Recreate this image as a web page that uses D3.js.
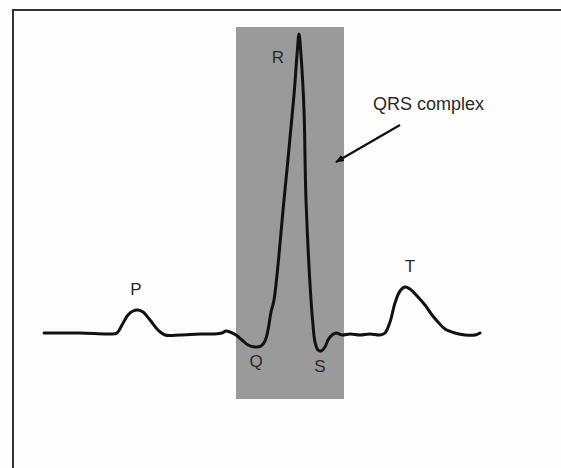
<!DOCTYPE html>
<html>
<head>
<meta charset="utf-8">
<script src="https://cdn.jsdelivr.net/npm/d3@7"></script>
<style>
  body { margin: 0; background: #fdfdfd; }
  svg { display: block; }
  .wave { fill: none; stroke: #111; stroke-width: 3; stroke-linejoin: round; stroke-linecap: round; }
  .lbl { font-family: "Liberation Sans", Arial, sans-serif; font-size: 17px; fill: #2a2a2a; }
</style>
</head>
<body>
<svg></svg>
<script>
const w = 561;
const h = 468;

// ECG trace: time (ms) and voltage (mV)
const ecgTime = [0, 72, 132, 146, 156, 168, 178, 188, 198, 212, 228, 242, 272, 312, 342, 356, 364, 372,
  384, 396, 408, 422, 434, 442, 448, 454, 460, 480, 500, 506, 510, 514, 520, 524, 534, 538, 542, 548,
  554, 562, 568, 576, 584, 596, 612, 632, 652, 672, 682, 692, 702, 712, 722, 732, 748, 762, 776, 788,
  802, 822, 842, 862, 872];
const ecgMv = [0.005, 0.005, 0, 0.005, 0.045, 0.095, 0.115, 0.12, 0.11, 0.07, 0.02, -0.005, -0.005, 0, 0,
  0.005, 0.015, 0.01, -0.005, -0.03, -0.055, -0.065, -0.06, -0.035, 0.02, 0.11, 0.17, 0.67, 1.195, 1.395,
  1.5, 1.395, 1.12, 0.67, 0.17, 0.045, -0.04, -0.08, -0.085, -0.065, -0.03, -0.005, 0.005, -0.005, 0,
  -0.005, 0, -0.005, 0.005, 0.06, 0.155, 0.215, 0.235, 0.225, 0.185, 0.145, 0.095, 0.06, 0.025, 0.005,
  -0.005, -0.005, 0.005];

// wave labels (anchor in ms / mV)
const waveNames = ["P", "Q", "R", "S", "T"];
const waveTime = [184, 424, 468, 552, 732];
const waveMv = [0.195, -0.165, 1.355, -0.19, 0.31];

// QRS window (ms) and shaded voltage span (mV)
const qrsWindow = [384, 600];
const qrsSpan = [-0.325, 1.535];
const qrsText = "QRS complex";
const qrsTextAt = [658, 1.12];
const arrowFrom = [712, 1.045];
const arrowTo = [584, 0.86];

const svg = d3.select("svg").attr("width", w).attr("height", h);

const x = d3.scaleLinear().domain([0, 872]).range([44, 480]);
const y = d3.scaleLinear().domain([0, 1.5]).range([334, 34]);

/** frame */
svg.append("path")
  .attr("d", `M13,${h} L13,10 L${w},10`)
  .attr("fill", "none")
  .attr("stroke", "#333")
  .attr("stroke-width", 2);

/** shaded QRS window */
svg.append("rect")
  .attr("x", x(qrsWindow[0]))
  .attr("y", y(qrsSpan[1]))
  .attr("width", x(qrsWindow[1]) - x(qrsWindow[0]))
  .attr("height", y(qrsSpan[0]) - y(qrsSpan[1]))
  .attr("fill", "#9a9a9a");

/** trace */
const pts = ecgTime.map((t, i) => [t, ecgMv[i]]);
const line = d3.line()
  .x((d) => x(d[0]))
  .y((d) => y(d[1]))
  .curve(d3.curveCatmullRom.alpha(0.5));

svg.append("path").datum(pts).attr("class", "wave").attr("d", line);

/** labels */
svg.selectAll("text.wl")
  .data(waveNames)
  .enter()
  .append("text")
  .attr("class", "lbl wl")
  .attr("x", (d, i) => x(waveTime[i]))
  .attr("y", (d, i) => y(waveMv[i]))
  .attr("text-anchor", "middle")
  .text((d) => d);

svg.append("text")
  .attr("class", "lbl")
  .attr("x", x(qrsTextAt[0]))
  .attr("y", y(qrsTextAt[1]))
  .style("font-size", "18px")
  .text(qrsText);

/** arrow */
svg.append("defs").append("marker")
  .attr("id", "head")
  .attr("viewBox", "0 0 10 10")
  .attr("refX", 9).attr("refY", 5)
  .attr("markerWidth", 4).attr("markerHeight", 4)
  .attr("orient", "auto")
  .append("path").attr("d", "M0,1 L10,5 L0,9 Z").attr("fill", "#111");

svg.append("line")
  .attr("x1", x(arrowFrom[0])).attr("y1", y(arrowFrom[1]))
  .attr("x2", x(arrowTo[0])).attr("y2", y(arrowTo[1]))
  .attr("stroke", "#111")
  .attr("stroke-width", 2.2)
  .attr("marker-end", "url(#head)");
</script>
</body>
</html>
